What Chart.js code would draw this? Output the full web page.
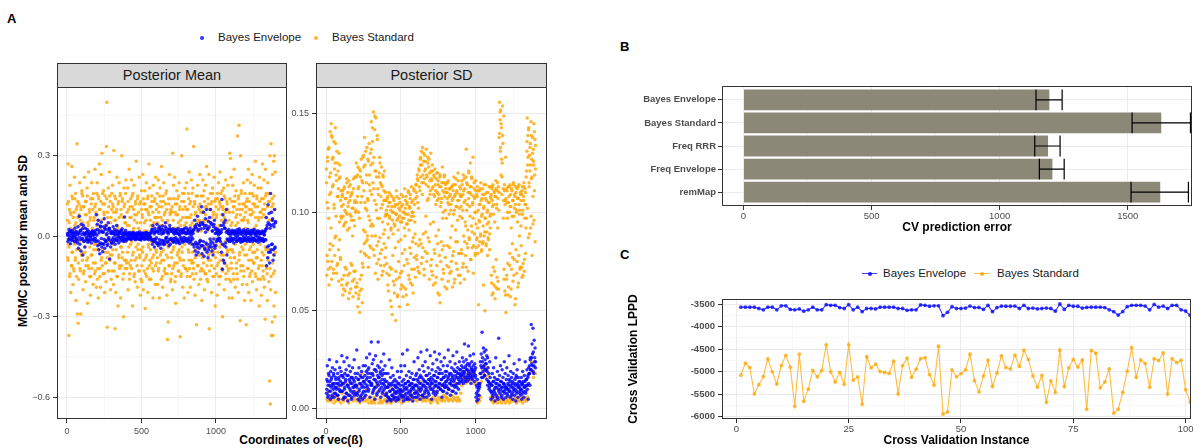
<!DOCTYPE html>
<html>
<head>
<meta charset="utf-8">
<script src="https://cdn.jsdelivr.net/npm/chart.js@4.4.1/dist/chart.umd.min.js"></script>
<style>
body { margin: 0; width: 1202px; height: 448px; position: relative; background: #fff; overflow: hidden;
       font-family: 'Liberation Sans', Arial, sans-serif; }
canvas { position: absolute; left: 0; top: 0; }
.t { position: absolute; white-space: nowrap; color: #000; line-height: 1; }
.lab { font-weight: bold; font-size: 13px; }
.strip { position: absolute; box-sizing: border-box; background: #D9D9D9; border: 1px solid #333;
         font-size: 14.5px; color: #1A1A1A; text-align: center; line-height: 23px; }
.leg { font-size: 11.5px; color: #1A1A1A; }
.ttl { font-weight: bold; font-size: 12px; }
.dot { position: absolute; border-radius: 50%; }
.key { position: absolute; height: 1px; }
</style>
</head>
<body>
<div class="t lab" style="left:7px;top:12px">A</div>
<div class="t lab" style="left:620px;top:40px">B</div>
<div class="t lab" style="left:620px;top:248px">C</div>

<!-- panel A legend -->
<div class="dot" style="left:200px;top:36px;width:4px;height:4px;background:rgba(0,0,255,0.8)"></div>
<div class="t leg" style="left:218px;top:32px">Bayes Envelope</div>
<div class="dot" style="left:314px;top:36px;width:4px;height:4px;background:rgba(255,165,0,0.8)"></div>
<div class="t leg" style="left:332px;top:32px">Bayes Standard</div>

<!-- facet strips -->
<div class="strip" style="left:57px;top:63px;width:230px;height:25px">Posterior Mean</div>
<div class="strip" style="left:316px;top:63px;width:231px;height:25px">Posterior SD</div>

<!-- panel A axis titles -->
<div class="t ttl" style="left:22.5px;top:241px;transform:translate(-50%,-50%) rotate(-90deg)">MCMC posterior mean and SD</div>
<div class="t ttl" style="left:301px;top:440px;transform:translate(-50%,-50%)">Coordinates of vec(ß)</div>

<!-- panel C legend -->
<div class="key" style="left:862px;top:273px;width:15px;background:rgba(0,0,255,0.75)"></div>
<div class="dot" style="left:867.5px;top:271.5px;width:4px;height:4px;background:rgba(0,0,255,0.85)"></div>
<div class="t leg" style="left:883px;top:268px">Bayes Envelope</div>
<div class="key" style="left:974px;top:273px;width:15px;background:rgba(255,165,0,0.75)"></div>
<div class="dot" style="left:979.5px;top:271.5px;width:4px;height:4px;background:rgba(255,165,0,0.85)"></div>
<div class="t leg" style="left:997px;top:268px">Bayes Standard</div>

<canvas id="meanChart" width="1202" height="448"></canvas>
<canvas id="sdChart" width="1202" height="448"></canvas>
<canvas id="errChart" width="1202" height="448"></canvas>
<canvas id="lppdChart" width="1202" height="448"></canvas>

<script>
// ---- panel A: posterior mean; values run along coordinates 1..1400, one row per 100 coordinates ----
const meanEnv = [
  .01,-.02,.005,.025,-.012,.018,-.028,.003,.014,-.008,.022,-.015,0,.012,-.005,.03,-.02,.008,-.01,.016,-.025,.035,-.045,.012,.075,-.03,.02,-.055,.045,-.01,
  .028,-.07,.04,-.02,.008,-.04,.03,-.015,.015,-.01,.025,-.022,.005,.018,-.015,.01,-.005,.012,-.025,.008,.02,-.012,.004,.015,-.018,.01,-.008,.022,.08,-.018,
  .045,-.035,.06,-.05,.02,-.065,.038,-.025,.052,-.04,.015,-.058,.035,-.03,.065,-.045,.025,-.02,.04,-.015,.01,-.03,.05,-.01,.03,-.085,.02,-.04,.012,-.025,
  .018,-.012,.035,-.02,.008,.025,-.03,.012,-.008,.04,-.015,.02,.005,-.025,.015,-.005,.01,-.018,.022,-.01,.028,-.004,.012,-.02,.006,.072,-.01,.022,-.018,.01,
  .008,-.005,.012,-.01,.004,.015,-.008,.006,-.012,.01,-.004,.014,-.007,.003,.011,-.01,.006,-.013,.009,-.003,.013,-.006,.005,-.011,.008,.016,-.009,.004,-.014,.01,
  -.005,.012,-.008,.003,.01,-.012,.006,-.004,.014,-.009,.002,.011,-.006,.008,-.013,.005,.009,-.003,.012,-.01,.025,-.03,.04,-.02,.015,-.04,.03,-.012,.02,-.025,
  .045,-.028,.02,-.035,.01,.035,-.022,.028,-.045,.018,-.015,.038,-.025,.012,-.032,.022,-.018,.05,-.01,.03,-.005,.015,-.02,.008,.025,-.012,.04,-.03,.018,-.008,
  .02,-.015,.028,-.022,.012,-.008,.025,-.018,.015,-.025,.01,.022,-.012,.03,-.02,.008,-.028,.018,-.005,.025,-.015,.012,-.022,.02,-.01,.028,-.018,.015,-.008,.032,
  .012,-.02,.025,-.01,.018,-.025,.008,.03,-.015,.02,-.005,.015,-.03,.01,.022,-.04,.06,-.055,.035,-.07,.045,-.03,.075,-.06,.025,-.045,.04,-.02,.05,-.035,
  .11,-.065,.05,-.035,.09,-.075,.04,-.05,.065,-.025,.1,-.06,.03,-.08,.055,-.04,.07,-.03,.1,-.02,.045,-.055,.02,-.07,.035,-.01,.06,-.045,.025,-.035,
  -.02,.015,-.01,.025,.005,-.015,.02,-.008,.012,.04,-.06,.137,-.123,.08,-.09,.05,-.1,.03,.06,-.04,.1,-.07,.02,-.015,.01,.025,-.02,.012,-.005,.018,
  .012,-.018,.022,-.008,.015,-.025,.01,.02,-.012,.005,.018,-.02,.025,-.005,.012,-.015,.028,-.01,.008,-.022,.015,.02,-.012,.006,-.018,.024,-.008,.01,-.015,.02,
  -.005,.014,-.02,.026,-.01,.012,-.016,.008,.018,-.012,.022,-.006,.01,-.02,.016,-.008,.025,-.014,.005,.012,-.018,.02,-.003,.015,-.022,.009,-.011,.017,-.007,.013,
  .01,-.015,.02,-.008,.014,-.02,.006,.018,-.012,.025,.07,-.11,.04,-.08,.118,-.06,.085,-.1,.03,.16,-.05,.09,-.03,.06,-.09,.045,-.07,.1,-.04,.05
];
const meanEnvCore = [
  .004,-.01,.015,-.006,.02,-.015,.008,-.003,.012,-.02,.002,.018,-.009,.006,-.014,.011,-.004,.022,-.012,.007,
  -.008,.013,-.018,.005,.01,-.005,.016,-.011,.003,-.016,.009,-.002,.014,-.013,.006,.019,-.007,.011,-.02,.004,
  .025,-.018,.012,-.03,.035,-.008,.02,-.028,.015,-.012,.03,-.02,.006,-.035,.022,-.005,.028,-.015,.01,-.025,
  .01,-.006,.016,-.013,.004,.02,-.017,.008,-.002,.013,-.01,.018,-.005,.007,-.015,.012,-.008,.003,.015,-.012,
  .005,-.008,.01,-.004,.007,-.011,.003,.009,-.006,.012,-.002,.006,-.009,.004,.011,-.005,.008,-.012,.002,.007,
  -.006,.009,-.003,.011,-.008,.005,.013,-.01,.004,-.007,.01,-.004,.018,-.015,.022,-.012,.008,-.02,.015,-.006,
  .018,-.025,.03,-.012,.022,-.03,.008,.026,-.018,.012,-.028,.035,-.006,.02,-.022,.015,-.035,.028,-.01,.024,
  -.012,.018,-.02,.008,.015,-.006,.022,-.015,.01,-.022,.005,.02,-.01,.014,-.018,.025,-.004,.012,-.016,.009,
  .01,-.015,.02,-.006,.013,-.02,.006,.018,-.01,.025,-.03,.035,-.022,.03,-.04,.02,-.028,.04,-.015,.028,
  -.035,.045,-.02,.03,-.045,.015,.04,-.03,.025,-.05,.035,-.01,.05,-.04,.02,-.025,.045,-.035,.01,.03,
  .012,-.015,.02,-.008,.01,-.02,.015,.025,-.03,.04,-.035,.03,-.025,.015,-.01,.018,-.012,.008,-.018,.006,
  -.01,.016,-.014,.008,.02,-.006,.012,-.018,.004,.015,-.012,.022,-.008,.01,-.02,.014,-.004,.018,-.015,.007,
  .008,-.012,.018,-.005,.013,-.02,.006,.016,-.01,.022,-.007,.011,-.016,.004,.014,-.013,.02,-.003,.009,-.018,
  .012,-.01,.016,-.018,.006,.02,-.014,.03,-.04,.05,-.035,.045,-.06,.04,-.03,.065,-.05,.035,-.045,.055
];
const meanStd = [
  .12,-.08,.27,-.03,-.37,.05,-.15,.19,.09,-.21,.02,-.11,.26,-.06,.14,-.18,.07,-.01,-.13,.22,.04,-.09,.16,-.24,.1,-.05,.345,-.29,.13,-.325,-.16,.08,-.02,.2,-.12,.06,-.29,.11,-.07,.17,
  -.06,.15,-.2,.03,.11,-.13,.22,-.04,.08,-.17,.01,.13,-.09,.18,-.25,.05,-.11,.24,-.02,.09,-.15,.06,-.22,.14,-.07,.2,-.12,.03,.1,-.18,.16,-.05,.07,-.14,.25,-.1,.12,-.03,-.19,.04,
  .2,-.16,.06,-.23,.14,-.03,.27,-.12,.1,-.19,.02,.23,-.08,.31,-.05,.12,-.14,.17,-.01,.08,-.21,.15,-.1,.04,-.17,.335,.5,-.34,.09,-.06,.18,-.13,.03,.24,-.09,.13,-.2,.07,-.02,.16,
  -.13,.19,-.05,.11,-.18,.32,-.1,.15,-.345,.06,-.21,.09,-.01,.22,-.15,.04,-.26,.13,-.07,.2,-.11,.02,.16,-.23,.1,-.04,.3,-.08,.14,-.16,.07,-.3,.18,-.02,.12,-.12,.05,.21,-.09,.01,
  -.12,.04,.18,-.2,.1,-.04,.25,-.16,.07,-.11,.14,-.09,.21,-.02,.11,-.26,.16,-.06,.03,.19,-.14,.08,-.17,.12,-.01,.28,-.08,.05,-.19,.15,-.03,.09,-.13,.22,-.07,.02,-.22,.13,-.05,.17,
  -.17,.08,-.06,.23,-.2,.12,-.13,.05,.17,-.27,.1,-.08,.2,-.15,.02,.14,-.21,.09,-.04,.27,-.11,.18,-.09,.06,-.16,.11,-.02,.15,-.12,.03,-.23,.19,-.07,.13,-.01,.07,-.18,.22,-.05,.1,
  -.1,.16,-.18,.07,.21,-.12,.11,-.23,.04,.18,-.07,.13,-.16,.26,-.09,.06,-.19,.15,-.05,.2,-.13,.02,.09,-.14,.12,-.03,.17,-.22,.05,-.385,-.08,-.32,.14,-.11,.23,-.02,.08,-.17,.1,-.06,
  -.14,.09,-.2,.31,-.05,.19,-.11,.03,.22,-.17,.12,-.25,.08,-.02,.17,-.1,.14,-.06,.05,-.13,.2,-.08,.11,-.375,.06,-.15,.01,.3,-.04,.16,-.19,.1,-.09,.13,-.23,.04,.18,-.12,.07,-.01,
  .2,.4,-.15,.1,-.21,.16,-.06,.24,-.12,.07,-.19,.13,-.03,.21,-.09,.05,-.14,.18,-.1,.335,-.16,.04,.12,-.22,.08,-.05,.15,-.33,.02,-.11,.19,-.07,.11,-.18,.06,-.02,.23,-.13,.09,-.04,
  .15,-.24,.09,-.08,.21,-.13,.06,.17,-.2,.11,-.05,.19,-.14,.03,.26,-.11,.02,-.17,.12,-.07,.23,-.345,.1,-.04,.16,-.09,.05,-.21,.13,-.01,.18,-.15,.08,-.06,.22,-.12,.04,-.26,.14,-.03,
  -.14,.08,-.22,.16,.03,-.1,.2,-.18,.13,-.04,.24,-.15,.11,-.07,.06,-.12,.17,-.3,.1,-.09,.18,-.2,.07,.14,-.02,.21,-.16,.05,-.11,.12,-.06,.19,-.13,.01,-.23,.09,.31,-.05,.29,-.17,
  .22,-.12,.05,-.23,.19,-.06,.11,-.16,.25,-.08,.13,-.19,.04,.17,-.1,.08,-.14,.374,.02,-.21,.15,.414,-.07,.1,-.315,.3,-.11,.17,.06,-.02,-.18,.12,-.05,.2,-.13,.07,-.24,.16,-.03,.09,
  -.33,.13,-.18,.21,.06,-.12,.25,-.21,.1,-.05,.16,-.14,.2,-.24,.08,-.09,.23,-.17,.12,-.03,.15,-.1,.19,-.06,.11,.28,-.15,.04,-.2,.14,-.08,.02,.18,-.12,.07,-.26,.22,-.01,.09,-.16,
  .18,-.22,.07,-.11,.27,-.15,.14,-.07,.21,-.19,.1,-.31,.25,-.05,.16,-.12,.03,-.24,.2,-.09,.13,-.17,.06,-.54,.3,-.626,-.2,.345,-.37,.11,-.32,.23,-.37,-.14,.28,-.26,.3,-.3,.24,-.21
];
const meanStdCore = [
  .06,-.09,.13,-.04,.1,-.14,.03,.08,-.11,.15,-.06,.02,-.12,.09,-.03,.14,-.08,.05,-.15,.11,-.02,.07,-.1,.12,-.05,.04,-.13,.1,-.07,.16,
  -.09,.05,-.14,.11,.03,-.06,.13,-.11,.08,-.02,.15,-.08,.04,-.12,.1,-.04,.07,-.15,.12,-.07,.02,.14,-.1,.06,-.03,.11,-.13,.09,-.05,.16,
  .08,-.12,.15,-.05,.1,-.15,.03,.13,-.09,.06,-.11,.16,-.03,.09,-.14,.12,-.06,.04,-.1,.14,-.08,.07,-.13,.11,-.02,.15,-.07,.05,-.16,.1,
  -.07,.12,-.03,.09,-.13,.06,-.1,.14,-.05,.1,-.15,.03,.12,-.08,.07,-.12,.15,-.04,.08,-.11,.13,-.06,.02,-.14,.11,-.09,.05,.16,-.02,-.1,
  .09,-.06,.13,-.1,.04,-.14,.11,-.03,.07,-.12,.15,-.07,.02,.1,-.15,.06,-.09,.13,-.04,.08,-.11,.14,-.05,.03,-.13,.12,-.08,.05,-.16,.1,
  -.11,.07,-.04,.14,-.09,.02,.12,-.14,.06,-.07,.1,-.12,.15,-.03,.08,-.16,.11,-.05,.04,-.1,.13,-.08,.09,-.13,.05,-.02,.14,-.11,.07,-.06,
  .12,-.08,.05,-.13,.09,-.03,.15,-.1,.07,-.06,.11,-.15,.04,.13,-.09,.08,-.12,.02,.16,-.07,.1,-.14,.06,-.04,.12,-.11,.03,.09,-.16,.14,
  -.08,.11,-.12,.06,-.04,.14,-.1,.09,-.15,.03,.12,-.07,.08,-.13,.15,-.05,.1,-.09,.04,-.14,.13,-.06,.07,-.11,.02,.16,-.03,.11,-.12,.05,
  .1,-.13,.07,-.05,.14,-.09,.12,-.15,.04,.08,-.1,.16,-.06,.11,-.12,.03,.13,-.08,.09,-.14,.06,-.03,.15,-.11,.05,.1,-.07,.12,-.16,.02,
  -.12,.09,-.07,.15,-.1,.05,.13,-.14,.08,-.04,.11,-.16,.06,.14,-.09,.03,-.13,.1,-.06,.12,-.11,.07,.16,-.05,.09,-.15,.04,.13,-.08,.11,
  .07,-.11,.14,-.06,.1,-.15,.04,.12,-.09,.16,-.03,.08,-.13,.11,-.07,.05,.15,-.1,.09,-.14,.02,.13,-.05,.1,-.12,.06,-.16,.14,-.08,.04,
  -.1,.13,-.05,.09,-.14,.11,-.08,.15,-.03,.07,-.12,.1,-.16,.05,.14,-.09,.12,-.06,.08,-.13,.16,-.04,.1,-.11,.06,-.15,.12,-.07,.03,.11,
  .11,-.07,.14,-.12,.05,-.09,.13,-.15,.08,-.04,.1,-.13,.16,-.06,.09,-.1,.03,.12,-.14,.07,-.08,.15,-.05,.11,-.16,.06,-.11,.13,-.03,.09,
  -.09,.14,-.06,.1,-.13,.08,-.16,.12,-.04,.15,-.11,.07,-.14,.11,-.08,.16,-.05,.13,-.12,.09,-.15,.06,.14,-.1,.12,-.07,.15,-.13,.1,-.06
];

// ---- panel A: posterior SD ----
const sdEnv = [
  .008,.015,.022,.006,.012,.018,.009,.025,.014,.005,.019,.011,.016,.007,.021,.012,.01,.017,.006,.013,.02,.008,.015,.011,.024,.007,.018,.013,.005,.016,.01,.021,.009,.014,.019,
  .012,.027,.009,.017,.005,.013,.024,.01,.018,.006,.015,.02,.008,.026,.012,.004,.017,.011,.022,.007,.014,.019,.009,.016,.006,.013,.021,.008,.015,.011,.025,.007,.018,.012,.016,
  .012,.03,.008,.018,.005,.015,.021,.01,.004,.017,.013,.007,.019,.011,.005,.016,.022,.009,.014,.006,.013,.022,.007,.019,.026,.011,.016,.02,.009,.021,.014,.028,.006,.018,.012,
  .034,.012,.023,.008,.017,.025,.01,.02,.005,.015,.027,.011,.019,.007,.013,.022,.034,.016,.009,.021,.014,.018,.006,.024,.011,.017,.008,.02,.013,.028,.01,.015,.022,.007,.018,
  .007,.014,.004,.011,.018,.006,.012,.025,.005,.009,.016,.004,.013,.021,.007,.01,.017,.005,.012,.008,.015,.006,.011,.004,.014,.009,.019,.006,.013,.005,.01,.016,.008,.012,.022,
  .019,.006,.014,.028,.009,.004,.015,.011,.022,.007,.013,.005,.017,.01,.03,.006,.014,.008,.019,.012,.005,.016,.009,.013,.007,.018,.011,.004,.015,.01,.024,.008,.012,.006,.017,
  .009,.018,.006,.015,.026,.011,.007,.02,.013,.005,.017,.029,.01,.016,.007,.022,.012,.006,.019,.014,.008,.024,.011,.017,.006,.03,.013,.009,.021,.015,.007,.018,.012,.027,.01,
  .016,.005,.02,.013,.023,.008,.017,.011,.029,.014,.007,.019,.012,.025,.009,.016,.021,.011,.018,.028,.013,.02,.01,.024,.015,.006,.018,.012,.022,.009,.016,.026,.011,.019,.014,
  .012,.019,.008,.022,.015,.03,.01,.017,.013,.024,.007,.018,.014,.021,.009,.016,.027,.012,.02,.015,.011,.023,.017,.008,.019,.029,.013,.021,.016,.01,.018,.024,.014,.02,.017,
  .017,.022,.014,.026,.019,.013,.024,.018,.033,.016,.021,.015,.025,.02,.014,.023,.017,.032,.019,.022,.016,.027,.018,.013,.021,.024,.015,.02,.017,.028,.019,.014,.023,.016,.021,
  .006,.012,.004,.015,.009,.005,.013,.007,.011,.013,.024,.018,.028,.021,.039,.026,.016,.031,.022,.029,.017,.025,.02,.03,.023,.027,.019,.026,.021,.014,.018,.011,.024,.016,.013,
  .005,.012,.008,.018,.006,.014,.021,.009,.016,.004,.011,.026,.007,.015,.013,.019,.005,.01,.036,.012,.017,.008,.022,.014,.006,.011,.02,.009,.016,.005,.013,.024,.008,.018,.011,
  .006,.015,.021,.01,.007,.017,.012,.027,.009,.014,.006,.019,.011,.016,.008,.013,.005,.018,.01,.023,.007,.015,.012,.004,.017,.009,.02,.013,.006,.016,.011,.025,.008,.014,.01,
  .007,.016,.005,.013,.019,.009,.014,.006,.017,.011,.024,.008,.015,.012,.02,.01,.016,.005,.013,.018,.022,.012,.026,.02,.043,.026,.033,.022,.041,.029,.018,.035,.024,.031,.021
];
const sdEnvCore = [
  .01,.014,.007,.017,.012,.009,.015,.006,.013,.018,.008,.011,.016,.01,.013,.007,.015,.012,.009,.017,
  .009,.013,.016,.006,.011,.014,.008,.017,.012,.007,.015,.01,.013,.005,.016,.011,.009,.014,.012,.008,
  .011,.007,.015,.009,.013,.006,.016,.012,.008,.014,.011,.017,.009,.015,.012,.018,.01,.014,.016,.013,
  .013,.018,.009,.015,.011,.02,.014,.008,.017,.012,.016,.01,.019,.013,.015,.009,.018,.012,.014,.011,
  .008,.011,.006,.013,.009,.005,.012,.007,.01,.014,.006,.009,.012,.008,.011,.005,.013,.009,.007,.01,
  .009,.007,.012,.006,.01,.013,.008,.011,.005,.014,.009,.012,.007,.01,.013,.006,.011,.015,.008,.012,
  .012,.008,.014,.01,.016,.009,.013,.011,.007,.015,.012,.009,.014,.01,.017,.013,.008,.015,.011,.014,
  .013,.01,.015,.009,.017,.012,.014,.008,.016,.011,.013,.018,.01,.015,.012,.009,.016,.013,.011,.017,
  .014,.011,.016,.01,.018,.013,.015,.012,.017,.009,.014,.019,.012,.016,.011,.018,.015,.013,.02,.016,
  .018,.015,.021,.017,.019,.014,.022,.016,.02,.018,.015,.023,.017,.02,.016,.019,.022,.018,.02,.017,
  .008,.011,.007,.01,.012,.018,.022,.016,.024,.019,.021,.017,.023,.02,.015,.012,.014,.01,.013,.009,
  .009,.012,.007,.014,.01,.008,.013,.011,.006,.015,.009,.012,.01,.014,.007,.011,.013,.009,.012,.01,
  .011,.008,.013,.01,.015,.009,.012,.007,.014,.011,.009,.013,.01,.016,.008,.012,.011,.014,.009,.012,
  .01,.013,.008,.012,.011,.014,.009,.015,.012,.017,.021,.018,.025,.02,.023,.028,.019,.022,.026,.024
];
const sdStd = [
  .122,.068,.105,.128,.075,.132,.097,.063,.118,.081,.141,.072,.11,.145,.066,.138,.127,.083,.114,.071,.136,.102,.078,.125,.143,.088,.119,.069,.131,.108,.074,.121,.112,.065,.117,.086,.124,.077,.106,.098,
  .097,.063,.108,.111,.058,.104,.093,.068,.113,.101,.06,.107,.095,.071,.117,.099,.064,.11,.103,.056,.116,.092,.069,.106,.114,.061,.098,.109,.073,.102,.088,.057,.112,.096,.066,.105,.118,.07,.1,.059,
  .125,.105,.062,.119,.052,.112,.1,.058,.122,.049,.066,.118,.08,.127,.061,.108,.054,.115,.072,.129,.123,.084,.138,.105,.09,.131,.078,.115,.101,.086,.107,.127,.072,.098,.135,.119,.083,.111,.093,.124,
  .146,.109,.088,.136,.125,.093,.151,.112,.078,.142,.121,.069,.148,.104,.118,.083,.139,.097,.066,.109,.076,.12,.128,.087,.115,.073,.102,.123,.081,.113,.095,.07,.118,.106,.084,.121,.091,.077,.11,.099,
  .106,.074,.099,.108,.063,.103,.087,.11,.068,.097,.105,.055,.101,.092,.071,.108,.048,.1,.089,.065,.107,.094,.059,.103,.082,.045,.099,.111,.066,.096,.104,.058,.091,.075,.107,.052,.098,.101,.069,.086,
  .109,.063,.095,.079,.104,.057,.1,.097,.073,.112,.088,.102,.061,.108,.094,.076,.105,.053,.099,.11,.068,.091,.103,.082,.107,.064,.096,.113,.071,.1,.085,.106,.059,.098,.111,.077,.104,.089,.067,.114,
  .114,.078,.108,.119,.072,.116,.102,.083,.121,.069,.111,.124,.128,.084,.131,.115,.077,.133,.119,.089,.126,.071,.117,.129,.08,.122,.098,.132,.075,.118,.106,.125,.087,.113,.127,.066,.12,.109,.094,.13,
  .121,.076,.116,.124,.068,.113,.095,.119,.081,.108,.122,.064,.111,.088,.117,.073,.106,.12,.059,.114,.091,.109,.078,.118,.054,.103,.113,.085,.107,.066,.123,.097,.071,.115,.083,.11,.119,.062,.101,.112,
  .115,.097,.061,.11,.083,.105,.116,.072,.099,.108,.069,.112,.087,.104,.075,.113,.093,.062,.107,.114,.08,.118,.101,.066,.109,.091,.117,.074,.103,.111,.085,.096,.12,.068,.106,.079,.113,.098,.064,.108,
  .103,.081,.116,.097,.072,.109,.119,.088,.105,.066,.112,.095,.078,.118,.132,.101,.084,.114,.091,.07,.107,.12,.086,.11,.098,.125,.076,.113,.093,.117,.082,.104,.128,.069,.108,.115,.089,.1,.079,.111,
  .094,.082,.109,.087,.113,.079,.101,.053,.096,.111,.085,.104,.089,.115,.08,.098,.107,.084,.112,.093,.063,.103,.088,.109,.05,.097,.114,.083,.106,.09,.1,.078,.11,.086,.095,.105,.081,.113,.092,.099,
  .107,.068,.112,.058,.103,.114,.072,.099,.063,.11,.095,.056,.108,.116,.076,.104,.061,.111,.092,.065,.113,.101,.138,.156,.147,.131,.152,.119,.143,.109,.125,.154,.135,.097,.149,.071,.114,.06,.106,.128,
  .049,.112,.068,.105,.097,.074,.113,.062,.108,.1,.079,.114,.057,.103,.092,.071,.111,.084,.106,.065,.115,.098,.076,.109,.053,.104,.113,.081,.1,.069,.112,.095,.062,.107,.078,.114,.088,.101,.072,.11,
  .093,.083,.109,.067,.113,.101,.074,.106,.115,.07,.097,.112,.079,.104,.118,.097,.131,.148,.124,.139,.087,.143,.113,.129,.121,.135,.092,.146,.117,.127,.078,.138,.108,.132,.124,.096,.141,.119,.085,.134
];
const sdStdCore = [
  .115,.078,.126,.102,.071,.133,.109,.084,.12,.092,.139,.075,.113,.128,.069,.104,.122,.087,.135,.098,.116,.073,.125,.108,.081,.13,.095,.118,.076,.111,
  .103,.066,.109,.098,.061,.112,.094,.072,.107,.1,.063,.115,.091,.068,.105,.113,.059,.099,.108,.074,.096,.11,.065,.102,.117,.07,.093,.106,.062,.101,
  .118,.064,.108,.123,.056,.113,.097,.06,.121,.105,.068,.116,.074,.128,.091,.111,.079,.124,.102,.085,.119,.133,.088,.106,.126,.077,.114,.096,.13,.082,
  .132,.094,.143,.115,.081,.128,.106,.149,.088,.121,.101,.074,.137,.112,.085,.118,.097,.125,.079,.108,.114,.068,.104,.119,.089,.111,.073,.106,.098,.082,
  .101,.069,.107,.094,.06,.105,.098,.072,.109,.091,.052,.103,.096,.078,.1,.106,.063,.093,.104,.07,.099,.108,.057,.097,.085,.102,.067,.105,.095,.061,
  .103,.07,.097,.108,.062,.1,.092,.081,.106,.099,.058,.104,.094,.074,.111,.096,.066,.102,.109,.079,.098,.105,.063,.1,.087,.112,.071,.095,.107,.084,
  .11,.076,.117,.105,.07,.122,.113,.086,.127,.118,.074,.124,.109,.082,.13,.115,.068,.121,.126,.09,.114,.119,.079,.128,.107,.123,.085,.116,.111,.073,
  .117,.07,.112,.121,.063,.109,.118,.079,.114,.104,.067,.12,.11,.084,.116,.107,.058,.113,.119,.075,.105,.115,.081,.111,.1,.069,.118,.108,.077,.114,
  .11,.073,.107,.115,.065,.104,.112,.082,.109,.101,.07,.113,.106,.078,.111,.099,.064,.108,.114,.085,.103,.11,.071,.106,.116,.079,.102,.109,.068,.112,
  .108,.079,.114,.101,.074,.111,.117,.085,.106,.093,.072,.115,.104,.082,.11,.121,.087,.103,.113,.076,.109,.118,.09,.105,.097,.083,.112,.107,.078,.116,
  .1,.086,.108,.092,.111,.083,.104,.095,.112,.088,.106,.081,.099,.109,.085,.102,.114,.09,.097,.107,.084,.11,.094,.101,.087,.105,.113,.089,.098,.108,
  .109,.064,.106,.113,.059,.104,.111,.07,.108,.062,.112,.102,.067,.115,.107,.061,.11,.14,.151,.133,.145,.127,.118,.139,.112,.106,.066,.111,.104,.058,
  .107,.066,.111,.1,.058,.105,.113,.073,.103,.109,.061,.112,.098,.077,.106,.114,.068,.102,.108,.056,.11,.101,.075,.107,.113,.064,.104,.099,.071,.109,
  .106,.072,.111,.099,.068,.108,.113,.076,.104,.11,.092,.121,.136,.102,.128,.142,.115,.089,.133,.124,.098,.139,.118,.13,.094,.126,.145,.111,.137,.122
];
const sdStdLow = [
  .005,.004,.009,.006,.004,.012,.005,.003,.007,.004,.006,.011,.004,.005,.003,
  .008,.005,.004,.006,.013,.005,.004,.003,.007,.005,.016,.004,.006,.005,.009,
  .004,.012,.005,.003,.006,.018,.004,.005,.007,.004,.01,.005,.003,.006,.004,
  .003,.004,.006,.003,.005,.012,.009,.003,.005,.004,.003,.007,.004,.005,.008,
  .003,.006,.004,.011,.003,.005,.004,.006,.005,.004,.008,.005,.004,.006,.005,
  .003,.007,.005,.004,.01,.005,.006,.004,.005,.008,.006,.004,.005,.012,.006,
  .004,.009,.005,.014,.006,.005,.004,.007,.005,.004,.006,.011,.005,.004,.003,
  .005,.004,.006,.009,.005,.004,.003,.006,.005,.012,.004,.005,.007,.004,.006,
  .006,.005,.004,.01,.005,.007,.004,.006,.005,.013,.004,.006,.005,.004,.008,
  .012,.016,.015,.018,.013,.017,.015,.019,.014,.016,.018,.015,.013,.017,.014,
  .004,.003,.005,.004,.006,.014,.02,.018,.022,.016,.019,.021,.017,.012,.006,
  .004,.005,.003,.006,.004,.005,.003,.007,.004,.005,.003,.006,.004,.005,.003,
  .005,.004,.006,.003,.005,.004,.007,.004,.005,.006,.003,.005,.004,.006,.004,
  .005,.003,.006,.004,.005,.004,.006,.012,.018,.02,.024,.019,.016,.021,.018
];
const coordMax = 1400;
const coordTicks = [0, 500, 1000];
const coordTickLabels = ['0', '500', '1000'];
const coordMinor = [250, 750, 1250];
const meanTicks = [-0.6, -0.3, 0, 0.3];
const meanTickLabels = ['\u22120.6', '\u22120.3', '0.0', '0.3'];
const meanMinor = [-0.45, -0.15, 0.15, 0.45];
const sdTicks = [0, 0.05, 0.1, 0.15];
const sdTickLabels = ['0.00', '0.05', '0.10', '0.15'];
const sdMinor = [0.025, 0.075, 0.125];

// ---- panel B: CV prediction error ----
const models = ['Bayes Envelope', 'Bayes Standard', 'Freq RRR', 'Freq Envelope', 'remMap'];
const cvError = [1194, 1631, 1189, 1206, 1627];
const cvLow = [1142, 1517, 1137, 1155, 1513];
const cvHigh = [1244, 1745, 1236, 1252, 1737];
const errTicks = [0, 500, 1000, 1500];
const errTickLabels = ['0', '500', '1000', '1500'];
const errMinor = [250, 750, 1250, 1750];

// ---- panel C: cross validation LPPD ----
const lppdEnv = [
  -3570,-3570,-3570,-3570,-3600,-3630,-3570,-3570,-3630,-3540,
  -3540,-3620,-3630,-3610,-3660,-3630,-3570,-3630,-3630,-3515,
  -3530,-3530,-3580,-3600,-3515,-3630,-3570,-3670,-3600,-3600,
  -3610,-3570,-3570,-3570,-3570,-3600,-3600,-3640,-3630,-3630,
  -3520,-3530,-3550,-3540,-3540,-3760,-3685,-3560,-3600,-3600,
  -3590,-3545,-3580,-3575,-3620,-3530,-3670,-3580,-3545,-3550,
  -3550,-3545,-3600,-3530,-3600,-3590,-3610,-3600,-3590,-3600,
  -3660,-3500,-3620,-3530,-3550,-3550,-3590,-3575,-3570,-3570,
  -3570,-3580,-3630,-3670,-3745,-3670,-3560,-3530,-3530,-3530,
  -3545,-3630,-3510,-3570,-3545,-3600,-3530,-3530,-3630,-3655,
  -3750
];
const lppdStd = [
  -5080,-4810,-4910,-5495,-5290,-5110,-4720,-5005,-5275,-4865,
  -4640,-4900,-5765,-4615,-5660,-5390,-4975,-5115,-4975,-4405,
  -5005,-5230,-5015,-5280,-4405,-5190,-5115,-5720,-4670,-4915,
  -4835,-5000,-5020,-5040,-4770,-5495,-4865,-4700,-5125,-4945,
  -4715,-4690,-5065,-5300,-4435,-5940,-5895,-4960,-5115,-5045,
  -4960,-4615,-5200,-5450,-5095,-4745,-5330,-5030,-4650,-4910,
  -4940,-4635,-4885,-4525,-4730,-5095,-5345,-5085,-5680,-5205,
  -5460,-4525,-5330,-4915,-4730,-4900,-4740,-5835,-4530,-4590,
  -5360,-5230,-4940,-5920,-5835,-5460,-4990,-4470,-5125,-4740,
  -4820,-5345,-4715,-4755,-4585,-5495,-4715,-4800,-4745,-5400,
  -5675
];
const instTicks = [0, 25, 50, 75, 100];
const instTickLabels = ['0', '25', '50', '75', '100'];
const instMinor = [12.5, 37.5, 62.5, 87.5];
const lppdTicks = [-6000, -5500, -5000, -4500, -4000, -3500];
const lppdTickLabels = ['-6000', '-5500', '-5000', '-4500', '-4000', '-3500'];
const lppdMinor = [-5750, -5250, -4750, -4250, -3750];

const BLUE = 'rgba(0,0,255,0.8)';
const ORANGE = 'rgba(255,165,0,0.8)';
const GRID = '#EBEBEB';
const TEXT = '#4D4D4D';

Chart.defaults.font.family = "'Liberation Sans', Arial, sans-serif";
Chart.defaults.animation = false;
Chart.defaults.responsive = false;
Chart.defaults.plugins.legend.display = false;
Chart.defaults.plugins.tooltip.enabled = false;

// panel border, drawn on top of the data like ggplot's panel.border
const frame = {
  id: 'frame',
  afterDatasetsDraw(chart) {
    const a = chart.chartArea, c = chart.ctx;
    c.save();
    c.strokeStyle = '#333333';
    c.lineWidth = 1;
    c.strokeRect(Math.round(a.left) + 0.5, Math.round(a.top) + 0.5,
                 Math.round(a.right - a.left) - 1, Math.round(a.bottom - a.top) - 1);
    c.restore();
  }
};

const errorBars = {
  id: 'errorBars',
  afterDatasetsDraw(chart) {
    const xs = chart.scales.x, ys = chart.scales.y, c = chart.ctx;
    const h = Math.abs(ys.getPixelForValue(2) - ys.getPixelForValue(1)) * 0.45;
    c.save();
    c.strokeStyle = '#000';
    c.lineWidth = 1.2;
    cvLow.forEach((lo, i) => {
      const y = ys.getPixelForValue(i + 1);
      const x1 = xs.getPixelForValue(lo), x2 = xs.getPixelForValue(cvHigh[i]);
      c.beginPath();
      c.moveTo(x1, y); c.lineTo(x2, y);
      c.moveTo(x1, y - h); c.lineTo(x1, y + h);
      c.moveTo(x2, y - h); c.lineTo(x2, y + h);
      c.stroke();
    });
    c.restore();
  }
};

function axis(min, max, majors, labels, minors, size, extra) {
  const all = majors.map((v, i) => ({ value: v, major: true, label: labels[i] }))
    .concat(minors.map(v => ({ value: v, major: false, label: '' })));
  const cfg = {
    type: 'linear', min: min, max: max, offset: false,
    afterBuildTicks: s => { s.ticks = all.map(t => ({ value: t.value, major: t.major })); },
    ticks: {
      autoSkip: false, maxRotation: 0, padding: 3, color: TEXT, font: { size: 9 },
      callback: v => { const t = all.find(a => Math.abs(a.value - v) < 1e-9); return t ? t.label : ''; }
    },
    grid: {
      offset: false,
      color: c => (c.tick && c.tick.major) ? GRID : '#F3F3F3',
      lineWidth: c => (c.tick && c.tick.major) ? 1 : 0.6,
      tickColor: c => (c.tick && c.tick.major) ? '#333333' : 'rgba(0,0,0,0)',
      tickLength: 4
    },
    border: { display: false },
    afterFit: s => { if (s.isHorizontal()) s.height = size; else s.width = size; }
  };
  return Object.assign(cfg, extra || {});
}

const pts = arr => arr.map((v, i) => ({ x: (i + 1) * coordMax / arr.length, y: v }));

function scatterSet(label, data, color) {
  return { label: label, data: data, pointRadius: 1.75, pointBorderWidth: 0,
           pointBackgroundColor: color, backgroundColor: color, borderWidth: 0 };
}

new Chart(document.getElementById('meanChart'), {
  type: 'scatter',
  data: { datasets: [
    scatterSet('Bayes Envelope', pts(meanEnv).concat(pts(meanEnvCore)), BLUE),
    scatterSet('Bayes Standard', pts(meanStd).concat(pts(meanStdCore)), ORANGE)
  ] },
  options: {
    layout: { padding: { left: 0, right: 915, top: 87, bottom: 9 } },
    scales: {
      x: axis(-67, 1477, coordTicks, coordTickLabels, coordMinor, 20, {}),
      y: axis(-0.682, 0.557, meanTicks, meanTickLabels, meanMinor, 57, {})
    }
  },
  plugins: [frame]
});

new Chart(document.getElementById('sdChart'), {
  type: 'scatter',
  data: { datasets: [
    scatterSet('Bayes Envelope', pts(sdEnv).concat(pts(sdEnvCore)), BLUE),
    scatterSet('Bayes Standard', pts(sdStd).concat(pts(sdStdCore), pts(sdStdLow)), ORANGE)
  ] },
  options: {
    layout: { padding: { left: 276, right: 655, top: 87, bottom: 9 } },
    scales: {
      x: axis(-67, 1477, coordTicks, coordTickLabels, coordMinor, 20, {}),
      y: axis(-0.0051, 0.1637, sdTicks, sdTickLabels, sdMinor, 40, {})
    }
  },
  plugins: [frame]
});

const errX = axis(-84, 1751, errTicks, errTickLabels, errMinor, 29, {});
errX.ticks.padding = 1;
errX.ticks.font = { size: 9.5 };
errX.title = { display: true, text: 'CV prediction error', color: '#000',
               font: { size: 12, weight: 'bold' }, padding: { top: 0, bottom: 0 } };
const errY = axis(0.4, 5.6, [1, 2, 3, 4, 5], models, [], 122, { reverse: true });
errY.ticks.font = { size: 9.5, weight: 'bold' };
errY.ticks.padding = 2;

new Chart(document.getElementById('errChart'), {
  type: 'bar',
  data: { datasets: [{
    label: 'CV prediction error',
    data: cvError.map((v, i) => ({ x: v, y: i + 1 })),
    backgroundColor: '#8B8878', borderWidth: 0,
    barPercentage: 0.9, categoryPercentage: 1
  }] },
  options: {
    indexAxis: 'y',
    layout: { padding: { left: 600, right: 10, top: 86, bottom: 213 } },
    scales: { x: errX, y: errY }
  },
  plugins: [errorBars, frame]
});

const instX = axis(-3.2, 101.2, instTicks, instTickLabels, instMinor, 29, {});
instX.ticks.padding = 0.5;
instX.ticks.font = { size: 9.5 };
instX.title = { display: true, text: 'Cross Validation Instance', color: '#000',
                font: { size: 12, weight: 'bold' }, padding: { top: 0, bottom: 0 } };
const lppdY = axis(-6051, -3389, lppdTicks, lppdTickLabels, lppdMinor, 96, {});
lppdY.ticks.font = { size: 9.5, weight: 'bold' };
lppdY.title = { display: true, text: 'Cross Validation LPPD', color: '#000',
                font: { size: 12, weight: 'bold' }, padding: { top: 0, bottom: 0 } };

function lineSet(label, values, color) {
  return { label: label, data: values.map((v, i) => ({ x: i + 1, y: v })),
           showLine: true, borderColor: color, borderWidth: 1.1,
           pointRadius: 1.9, pointBorderWidth: 0, pointBackgroundColor: color };
}

new Chart(document.getElementById('lppdChart'), {
  type: 'scatter',
  data: { datasets: [
    lineSet('Bayes Envelope', lppdEnv, 'rgba(0,0,255,0.75)'),
    lineSet('Bayes Standard', lppdStd, 'rgba(255,165,0,0.75)')
  ] },
  options: {
    layout: { padding: { left: 626, right: 11, top: 299, bottom: 0 } },
    scales: { x: instX, y: lppdY }
  },
  plugins: [frame]
});
</script>
</body>
</html>
